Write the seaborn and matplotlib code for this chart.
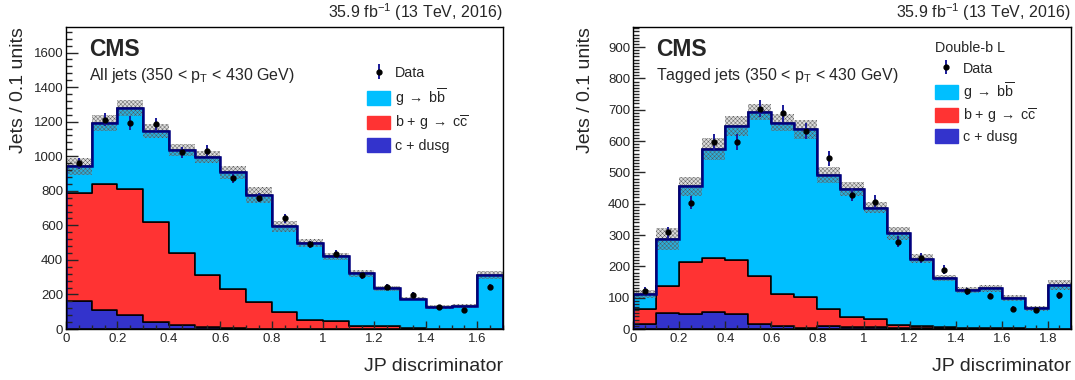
import numpy as np
import pandas as pd
import matplotlib
matplotlib.use("Agg")
import matplotlib.pyplot as plt
import seaborn as sns
from matplotlib.patches import Patch
from matplotlib.ticker import MultipleLocator, FormatStrFormatter


# ---- all jets (left), 17 bins of 0.1 ----
all_edges = np.round(np.arange(0, 1.71, 0.1), 2)
all_gbb = [154, 350, 467, 525, 594, 680, 673, 619, 498, 449, 376, 305, 220, 169, 127, 131, 311]
all_bcc = [624, 734, 731, 581, 416, 302, 229, 154, 95, 49, 43, 17, 15, 6, 2, 2, 1]
all_cdusg = [164, 108, 79, 40, 25, 12, 4, 2, 1, 1, 1, 0, 0, 0, 0, 0, 0]
all_data = [958, 1212, 1192, 1185, 1023, 1033, 875, 761, 640, 490, 434, 310, 245, 199, 127, 110, 243]
all_data_err = [31, 38, 38, 38, 33, 34, 30, 28, 26, 22, 21, 18, 16, 14, 11, 11, 16]
all_band = [50, 48, 47, 40, 35, 35, 35, 45, 30, 22, 22, 20, 15, 10, 12, 12, 25]

# ---- tagged jets, Double-b L (right), 19 bins of 0.1 ----
tag_edges = np.round(np.arange(0, 1.91, 0.1), 2)
tag_gbb = [48, 150, 242, 347, 430, 524, 547, 536, 429, 411, 354, 293, 214, 158, 121, 127, 96, 65, 140]
tag_bcc = [47, 86, 165, 174, 172, 153, 102, 98, 52, 32, 26, 9, 9, 3, 3, 2, 1, 0, 0]
tag_cdusg = [16, 50, 48, 53, 47, 15, 10, 4, 11, 5, 7, 3, 2, 2, 1, 1, 1, 1, 1]
tag_data = [122, 309, 403, 598, 596, 703, 688, 632, 545, 428, 406, 279, 227, 189, 120, 106, 64, 61, 107]
tag_data_err = [12, 18, 21, 26, 26, 27, 27, 26, 24, 21, 21, 17, 15, 14, 11, 10, 8, 8, 10]
tag_band = [12, 35, 30, 35, 32, 25, 28, 30, 25, 22, 18, 20, 15, 10, 10, 12, 10, 8, 16]

processes = [r"g$\;\rightarrow\;$b$\overline{\mathregular{b}}$",
             r"b + g$\;\rightarrow\;$c$\overline{\mathregular{c}}$",
             "c + dusg"]
colors = ["#00bfff", "#ff3333", "#3333cc"]
NAVY = "#00007f"


def stack_frame(edges, parts):
    centers = edges[:-1] + 0.05
    rows = []
    for name, vals in zip(processes, parts):
        for c, v in zip(centers, vals):
            rows.append({"jp": c, "jets": v, "process": name})
    return pd.DataFrame(rows)


def draw_panel(ax, edges, parts, data, data_err, band, ymax, label, title=None):
    df = stack_frame(edges, parts)
    sns.histplot(data=df, x="jp", weights="jets", hue="process",
                 hue_order=processes, palette=colors, bins=list(edges),
                 multiple="stack", element="step", fill=True, alpha=1,
                 edgecolor="black", linewidth=1.1, legend=False, ax=ax)

    total = np.sum(parts, axis=0)
    ax.stairs(total + np.array(band), edges, baseline=total - np.array(band),
              fill=True, facecolor=(0.55, 0.55, 0.55, 0.3),
              edgecolor="#555555", hatch="xxxxxxxx", linewidth=0, zorder=2)
    ax.stairs(total, edges, color=NAVY, linewidth=1.8, zorder=3)

    centers = edges[:-1] + 0.05
    eb = ax.errorbar(centers, data, yerr=data_err, fmt="o", color="black",
                     ecolor="#1a1a99", ms=3.5, elinewidth=1.4, capsize=0, zorder=4)

    ax.set_xlim(edges[0], edges[-1])
    ax.set_ylim(0, ymax)
    ax.set_axisbelow(False)
    for sp in ax.spines.values():
        sp.set_visible(True)
        sp.set_linewidth(1.0)
        sp.set_color("black")
        sp.set_zorder(10)

    ax.xaxis.set_major_locator(MultipleLocator(0.2))
    ax.xaxis.set_minor_locator(MultipleLocator(0.05))
    ax.xaxis.set_major_formatter(FormatStrFormatter("%g"))
    ax.tick_params(which="both", direction="in", top=False, right=False,
                   labelsize=9.5, width=1.0)
    ax.tick_params(axis="x", which="major", length=6, pad=3)
    ax.tick_params(axis="x", which="minor", length=3)
    ax.tick_params(axis="y", which="major", length=8.5, pad=2)
    ax.tick_params(axis="y", which="minor", length=4.3)

    ax.set_xlabel("JP discriminator", fontsize=14, loc="right")
    ax.xaxis.set_label_coords(1.0, -0.095)
    ax.set_ylabel("Jets / 0.1 units", fontsize=14, loc="top")
    ax.yaxis.set_label_coords(-0.09, 1.0)

    ax.text(0.053, 0.965, "CMS", transform=ax.transAxes, fontsize=16.5,
            fontweight="bold", va="top", ha="left")
    ax.text(0.053, 0.825, label, transform=ax.transAxes, fontsize=11.5,
            va="baseline", ha="left")
    ax.text(1.0, 1.03, r"35.9 fb$^{\mathregular{-1}}$ (13 TeV, 2016)",
            transform=ax.transAxes, fontsize=11.5, ha="right", va="baseline")

    handles = [eb] + [Patch(facecolor=c, edgecolor=c) for c in colors]
    labels = ["Data"] + processes
    leg = ax.legend(handles, labels, loc="upper left",
                    bbox_to_anchor=(0.689, 0.872 if title is None else 0.947),
                    frameon=False, fontsize=10.3, borderpad=0, borderaxespad=0,
                    handlelength=1.6, handleheight=1.1, handletextpad=0.35,
                    labelspacing=0.42 if title is None else 0.3,
                    title=title, title_fontsize=10.3, alignment="left")
    if title is not None:
        leg.get_title().set_y(2)
    return leg


sns.set_style("ticks")
plt.rcParams["font.family"] = ["Liberation Sans", "DejaVu Sans"]
plt.rcParams["mathtext.fontset"] = "custom"
plt.rcParams["mathtext.rm"] = "Liberation Sans"
plt.rcParams["mathtext.it"] = "Liberation Sans:italic"
plt.rcParams["hatch.linewidth"] = 0.3

fig = plt.figure(figsize=(10.75, 3.8), dpi=100)
ax1 = fig.add_axes([66 / 1075, 51 / 380, 437 / 1075, 302 / 380])
ax2 = fig.add_axes([633 / 1075, 51 / 380, 438 / 1075, 302 / 380])

draw_panel(ax1, all_edges, [all_gbb, all_bcc, all_cdusg], all_data, all_data_err,
           all_band, 1748, r"All jets (350 < p$_{\mathregular{T}}$ < 430 GeV)")
ax1.yaxis.set_major_locator(MultipleLocator(200))
ax1.yaxis.set_minor_locator(MultipleLocator(40))

draw_panel(ax2, tag_edges, [tag_gbb, tag_bcc, tag_cdusg], tag_data, tag_data_err,
           tag_band, 964, r"Tagged jets (350 < p$_{\mathregular{T}}$ < 430 GeV)",
           title="Double-b L")
ax2.yaxis.set_major_locator(MultipleLocator(100))
ax2.yaxis.set_minor_locator(MultipleLocator(10))

fig.savefig("out.png", dpi=100)
